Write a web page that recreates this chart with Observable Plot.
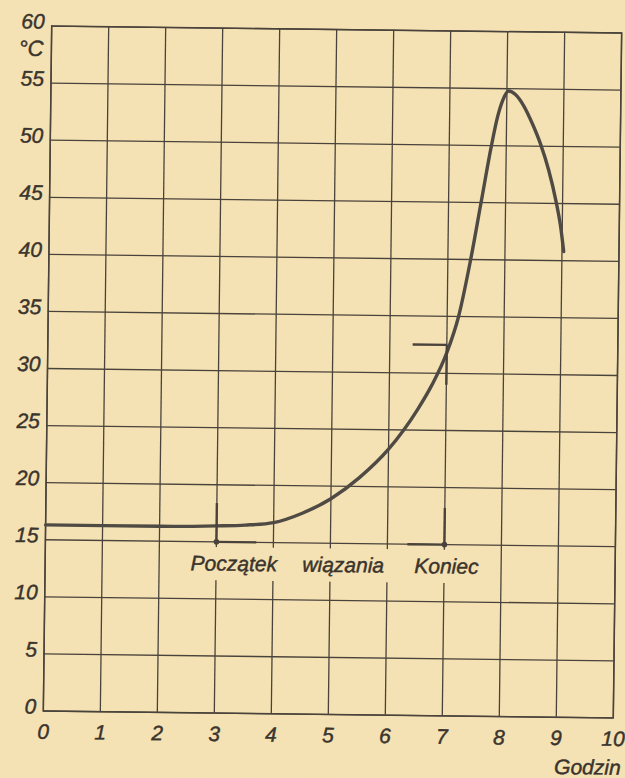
<!DOCTYPE html>
<html><head><meta charset="utf-8">
<script src="https://cdn.jsdelivr.net/npm/d3@7"></script>
<script src="https://cdn.jsdelivr.net/npm/@observablehq/plot@0.6"></script>
<style>
html,body{margin:0;padding:0;background:#f5e2b4;}
#chart{width:625px;height:778px;overflow:hidden;}
#chart svg{display:block;overflow:visible;transform:rotate(0.7deg);transform-origin:332px 371px;}
#chart svg text{stroke:#3a342d;stroke-width:0.45px;}
</style></head><body><div id="chart"></div>
<script>
// Temperature of setting cement (°C) vs time (hours)
const hours = [0, 1, 2, 3, 3.5, 4, 4.5, 5, 5.5, 6, 6.5, 6.75, 7, 7.2, 7.4, 7.57, 7.74, 7.84, 7.93, 8.03, 8.15, 8.3, 8.45, 8.6, 8.75, 8.88, 8.97, 9.03];
const temps = [16.3, 16.3, 16.3, 16.4, 16.5, 16.75, 17.6, 18.9, 20.8, 23.3, 26.8, 29.0, 31.8, 35.0, 40.0, 45.0, 50.0, 52.5, 54.0, 54.8, 54.5, 53.5, 52.0, 50.2, 47.9, 45.3, 43.0, 40.8];

const xTicks = [0, 1, 2, 3, 4, 5, 6, 7, 8, 9, 10];
const yTicks = [0, 5, 10, 15, 20, 25, 30, 35, 40, 45, 50, 55, 60];
const xLabel = "Godzin";
const yUnit = "°C";

const labelTexts = ["Początek", "wiązania", "Koniec"];
const labelXs = [3.31, 5.23, 7.04];
const labelYs = [13.07, 13.07, 13.07];

// marker segments: start of setting (x=3) and end of setting (x=7)
const segX1 = [3, 3, 7, 6.35, 6.4, 7];
const segY1 = [18.4, 15, 18.2, 15, 32.5, 32.5];
const segX2 = [3, 3.7, 7, 7, 7, 7];
const segY2 = [15, 15, 15, 15, 32.5, 29.0];
const dotXs = [3, 7];
const dotYs = [15, 15];

// paper strip behind the labels
const stripX = [2.45, 7.75];
const stripY = [11.6, 14.5];

const paper = "#f5e2b4";
const ink = "#4a433b";
const textInk = "#3a342d";

const segs = segX1.map((d, i) => ({x1: d, y1: segY1[i], x2: segX2[i], y2: segY2[i]}));
const dots = dotXs.map((d, i) => ({x: d, y: dotYs[i]}));
const curve = hours.map((h, i) => ({h, t: temps[i]}));
const labels = labelTexts.map((t, i) => ({t, x: labelXs[i], y: labelYs[i]}));

const chart = Plot.plot({
  width: 625,
  height: 778,
  marginLeft: 47,
  marginRight: 8,
  marginTop: 29,
  marginBottom: 64,
  style: {background: paper, fontFamily: "'Liberation Sans', Arial, sans-serif", fontStyle: "italic", color: textInk},
  x: {domain: [0, 10]},
  y: {domain: [0, 60]},
  marks: [
    Plot.gridX(xTicks, {stroke: ink, strokeOpacity: 1, strokeWidth: 1.3}),
    Plot.gridY(yTicks, {stroke: ink, strokeOpacity: 1, strokeWidth: 1.3}),
    Plot.rect([{}], {x1: stripX[0], x2: stripX[1], y1: stripY[0], y2: stripY[1], fill: paper}),
    Plot.frame({stroke: ink, strokeWidth: 1.5}),
    Plot.axisX(xTicks, {tickSize: 0, tickPadding: 13, fontSize: 21, label: null, fill: textInk}),
    Plot.axisY(yTicks, {tickSize: 0, tickPadding: 7, fontSize: 21, label: null, dy: -4, fill: textInk}),
    Plot.text([yUnit], {x: 0, y: 60, dx: -8, dy: 23, textAnchor: "end", fontSize: 22, fill: textInk}),
    Plot.text([xLabel], {x: 10, y: 0, dx: 8, dy: 50, textAnchor: "end", fontSize: 21, fill: textInk}),
    Plot.line(curve, {x: "h", y: "t", curve: "monotone-x", stroke: "#4f4a44", strokeWidth: 3.4}),
    Plot.link(segs, {x1: "x1", y1: "y1", x2: "x2", y2: "y2", stroke: ink, strokeWidth: 2.4}),
    Plot.dot(dots, {x: "x", y: "y", r: 2.8, fill: ink}),
    Plot.text(labels, {x: "x", y: "y", text: "t", fontSize: 21, fill: textInk, letterSpacing: "1px"})
  ]
});
document.getElementById("chart").appendChild(chart);
</script>
</body></html>
